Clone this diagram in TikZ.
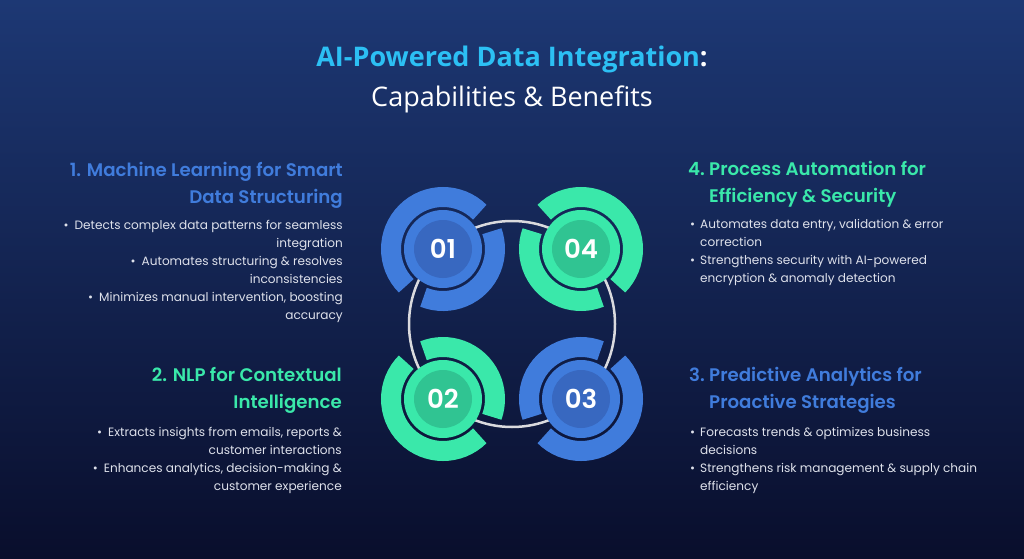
\documentclass[tikz,border=0pt]{standalone}
\usepackage{fontspec}
\setmainfont{Poppins}
\newfontfamily\headfont{Poppins SemiBold}
\newfontfamily\titlefont{Open Sans}
\usetikzlibrary{positioning}
\definecolor{capblue}{RGB}{64,124,220}
\definecolor{capbluecore}{RGB}{56,104,192}
\definecolor{capgreen}{RGB}{58,232,170}
\definecolor{capgreencore}{RGB}{48,196,146}
\definecolor{titlecyan}{RGB}{44,192,244}
\definecolor{bodygray}{RGB}{222,225,235}
\definecolor{ringgray}{RGB}{218,218,222}
\definecolor{bgtop}{RGB}{29,56,116}
\definecolor{bgbottom}{RGB}{9,14,44}

\begin{document}
\begin{tikzpicture}[x=1pt,y=1pt,
  band/.style={line width=20pt},
  disk/.style={circle,minimum size=78pt,inner sep=0pt},
  core/.style={circle,minimum size=58pt,inner sep=0pt,text=white,font=\headfont\fontsize{26}{26}\selectfont},
  heading/.style={font=\headfont\fontsize{18.2}{27}\selectfont,inner sep=0pt},
  bullets/.style={font=\fontsize{12.1}{18}\selectfont,text=bodygray,inner sep=0pt}]

\shade[top color=bgtop,bottom color=bgbottom] (0,0) rectangle (1024,558);
\useasboundingbox (0,0) rectangle (1024,558);

\node[font=\titlefont\bfseries\fontsize{27}{27}\selectfont,text=titlecyan,anchor=base,inner sep=0pt] (title) at (512,491) {AI-Powered Data Integration\textcolor{white}{:}};
\node[font=\titlefont\fontsize{27}{27}\selectfont,text=white,anchor=base,inner sep=0pt] (subtitle) at (512,451) {Capabilities \& Benefits};

\draw[line width=2.5pt,ringgray] (512,234) circle[radius=103];

\foreach \n/\cx/\cy/\tone/\deep/\a/\b/\c/\d in {01/443/309/capblue/capbluecore/45/225/248/380,
    04/581/309/capgreen/capgreencore/-45/135/160/292,
    02/443/159/capgreen/capgreencore/135/315/-20/112,
    03/581/159/capblue/capbluecore/225/405/68/200}
{
  \draw[band,\tone] (\cx,\cy) ++(\a:52) arc[start angle=\a,end angle=\b,radius=52];
  \draw[band,\tone] (\cx,\cy) ++(\c:52) arc[start angle=\c,end angle=\d,radius=52];
  \node[disk,fill=\tone] (c\n) at (\cx,\cy) {};
  \node[core,fill=\deep] (n\n) at (c\n) {\n};
}

\node[heading,text=capblue,align=right,anchor=base east] (h1) at (343,355) {1. Machine Learning for Smart\\Data Structuring};
\node[bullets,align=right,anchor=base east] (b1) at (343,239) {•\hspace{6pt}Detects complex data patterns for seamless\\integration\\•\hspace{6pt}Automates structuring \& resolves\\inconsistencies\\•\hspace{6pt}Minimizes manual intervention, boosting\\accuracy};

\node[heading,text=capgreen,align=right,anchor=base east] (h2) at (342,150) {2. NLP for Contextual\\Intelligence};
\node[bullets,align=right,anchor=base east] (b2) at (342,68) {•\hspace{6pt}Extracts insights from emails, reports \&\\customer interactions\\•\hspace{6pt}Enhances analytics, decision-making \&\\customer experience};

\node[heading,text=capgreen,align=left,anchor=base west] (h4) at (709,356) {\llap{4.\ }Process Automation for\\Efficiency \& Security};
\node[bullets,align=left,anchor=base west] (b4) at (700,275.5) {\llap{•\hspace{5pt}}Automates data entry, validation \& error\\correction\\\llap{•\hspace{5pt}}Strengthens security with AI-powered\\encryption \& anomaly detection};

\node[heading,text=capblue,align=left,anchor=base west] (h3) at (709,150) {\llap{3.\ }Predictive Analytics for\\Proactive Strategies};
\node[bullets,align=left,anchor=base west] (b3) at (700,68) {\llap{•\hspace{5pt}}Forecasts trends \& optimizes business\\decisions\\\llap{•\hspace{5pt}}Strengthens risk management \& supply chain\\efficiency};

\end{tikzpicture}
\end{document}
